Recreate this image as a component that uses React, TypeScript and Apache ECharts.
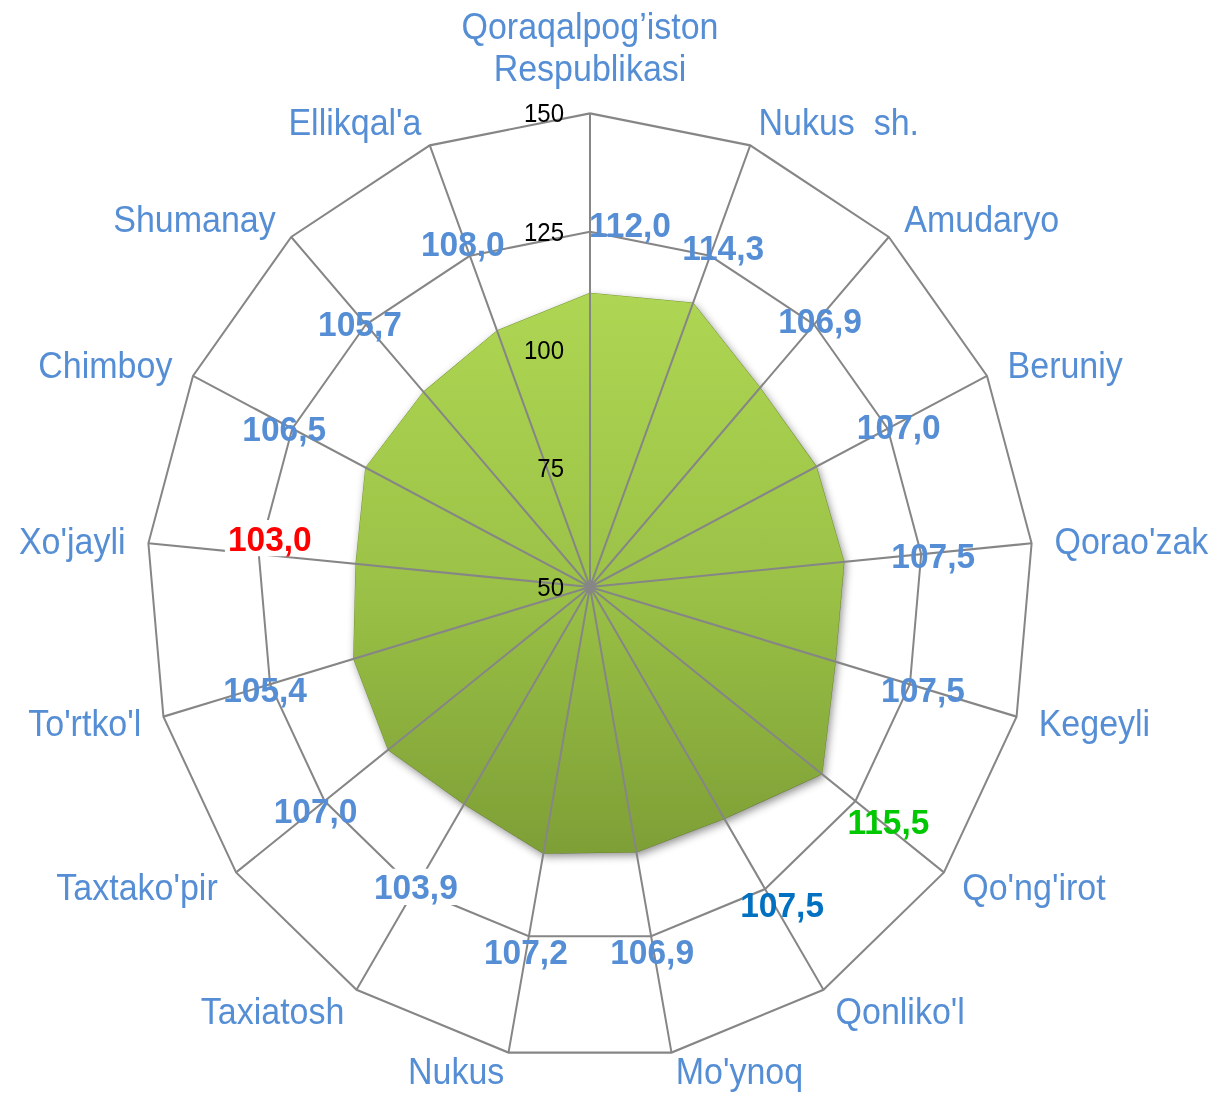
import React, { useEffect, useRef } from 'react';
import * as echarts from 'echarts';

// ---------- data ----------
const CATEGORIES: string[] = [
  'Qoraqalpog’iston\nRespublikasi',
  'Nukus  sh.',
  'Amudaryo',
  'Beruniy',
  "Qorao'zak",
  'Kegeyli',
  "Qo'ng'irot",
  "Qonliko'l",
  "Mo'ynoq",
  'Nukus',
  'Taxiatosh',
  "Taxtako'pir",
  "To'rtko'l",
  "Xo'jayli",
  'Chimboy',
  'Shumanay',
  "Ellikqal'a",
];
const VALUES: number[] = [
  112.0, 114.3, 106.9, 107.0, 107.5, 107.5, 115.5, 107.5, 106.9,
  107.2, 103.9, 107.0, 105.4, 103.0, 106.5, 105.7, 108.0,
];
const AXIS_MIN = 50;
const AXIS_MAX = 150;
const AXIS_STEP = 25;
const LABEL_RING = 125; // value ring on which the data labels sit

// ---------- styling / layout ----------
const FONT = '"Liberation Sans", Arial, Helvetica, sans-serif';
const NAME_COLOR = '#558ED5';
const GRID_COLOR = '#868686';
const SPECIAL_LABEL_COLORS: Record<number, string> = { 6: '#00C800', 7: '#0070C0', 13: '#FF0000' };
const LABEL_BG: Record<number, boolean> = { 10: true, 13: true };
const LABEL_NUDGE: [number, number][] = [
  [40, -7], [13, -8], [6, -4], [11, -2], [12, 1], [13, 5], [33, 19], [17, 15], [1, 14],
  [-3, 14], [1, -2], [-9, 9], [-5, 5], [11, -15], [-8, 0], [-6, -1], [-7, -11],
];
const LIFTED_NAMES = new Set<number>([8, 9]); // bottom names, nudged up to stay inside the page

const STRETCH = 1.068;
const W = 1219;
const H = Math.round(1095 / STRETCH);
const CX = 590;
const CY = 587 / STRETCH;
const R = 443.5;

function fmt(v: number): string {
  return v.toFixed(1).replace('.', ',');
}

// ECharts radar runs counter-clockwise; the reference runs clockwise,
// so keep the first item at the top and reverse the rest.
const RADAR_ORDER: number[] = [0, ...CATEGORIES.map((_, i) => CATEGORIES.length - 1 - i).slice(0, CATEGORIES.length - 1)];

export default function App() {
  const ref = useRef<HTMLDivElement>(null);

  useEffect(() => {
    if (!ref.current) return;
    const chart = echarts.init(ref.current, undefined, { renderer: 'svg' });

    const nameStyle = { color: NAME_COLOR, fontSize: 34, fontFamily: FONT };

    const option: any = {
      animation: false,
      backgroundColor: '#ffffff',
      radar: {
        center: [CX, CY],
        radius: R,
        startAngle: 90,
        shape: 'polygon',
        splitNumber: (AXIS_MAX - AXIS_MIN) / AXIS_STEP,
        indicator: RADAR_ORDER.map((k) => ({ name: CATEGORIES[k], min: AXIS_MIN, max: AXIS_MAX })),
        axisName: {
          ...nameStyle,
          lineHeight: 30,
          formatter: (name: string) => {
            const k = CATEGORIES.indexOf(name);
            if (name.indexOf('\n') >= 0) return `{two|${name}}`;
            if (LIFTED_NAMES.has(k)) return `{low|${name}}`;
            return name;
          },
          rich: {
            two: { ...nameStyle, lineHeight: 39 },
            low: { ...nameStyle, lineHeight: 30, padding: [0, 0, 10, 0] },
          },
        },
        axisNameGap: 23,
        axisLine: { show: false },
        axisTick: { show: false },
        axisLabel: { show: false },
        splitLine: { show: true, lineStyle: { color: GRID_COLOR, width: 2 } },
        splitArea: { show: false },
        z: 0,
      },
      polar: { center: [CX, CY], radius: R },
      angleAxis: {
        type: 'value',
        min: 0,
        max: CATEGORIES.length,
        interval: 1,
        startAngle: 90,
        clockwise: true,
        axisLine: { show: false },
        axisTick: { show: false },
        axisLabel: { show: false },
        splitLine: { show: true, lineStyle: { color: GRID_COLOR, width: 2 } },
        z: 5,
      },
      radiusAxis: {
        type: 'value',
        min: AXIS_MIN,
        max: AXIS_MAX,
        interval: AXIS_STEP,
        axisLine: { show: false },
        axisTick: { show: false },
        splitLine: { show: false },
        axisLabel: {
          show: true,
          color: '#000000',
          fontSize: 24,
          fontFamily: FONT,
          margin: 26,
        },
        z: 6,
      },
      series: [
        {
          type: 'radar',
          radarIndex: 0,
          symbol: 'none',
          z: 2,
          silent: true,
          lineStyle: { color: '#7C9C33', width: 1 },
          areaStyle: {
            opacity: 1,
            color: new echarts.graphic.LinearGradient(0, 0, 0, 1, [
              { offset: 0, color: '#AED653' },
              { offset: 0.5, color: '#9CC347' },
              { offset: 1, color: '#7E9F36' },
            ]),
            shadowColor: 'rgba(0,0,0,0.45)',
            shadowBlur: 8,
            shadowOffsetX: 2,
            shadowOffsetY: 3,
          },
          data: [{ value: RADAR_ORDER.map((k) => VALUES[k]), name: 'values' }],
        },
        {
          type: 'scatter',
          coordinateSystem: 'polar',
          z: 10,
          silent: true,
          symbolSize: 1,
          itemStyle: { color: 'rgba(0,0,0,0)', opacity: 1 },
          label: {
            show: true,
            position: 'inside',
            fontSize: 33.5,
            fontWeight: 'bold',
            fontFamily: FONT,
            color: NAME_COLOR,
            opacity: 1,
            textBorderWidth: 0,
            textBorderColor: 'transparent',
          },
          data: VALUES.map((v, i) => ({
            value: [LABEL_RING, i],
            label: {
              formatter: fmt(v),
              color: SPECIAL_LABEL_COLORS[i] || NAME_COLOR,
              offset: LABEL_NUDGE[i],
              textBorderWidth: 0,
              textBorderColor: 'transparent',
              backgroundColor: LABEL_BG[i] ? '#ffffff' : 'transparent',
              padding: LABEL_BG[i] ? [0, 3] : 0,
            },
          })),
        },
      ],
    };

    chart.setOption(option);
    return () => {
      chart.dispose();
    };
  }, []);

  return (
    <div
      style={{
        position: 'absolute',
        left: 0,
        top: 0,
        width: W,
        height: 1095,
        overflow: 'hidden',
        background: '#ffffff',
      }}
    >
      <div
        ref={ref}
        style={{
          width: W,
          height: H,
          transform: `scaleY(${STRETCH})`,
          transformOrigin: '0 0',
        }}
      />
    </div>
  );
}
